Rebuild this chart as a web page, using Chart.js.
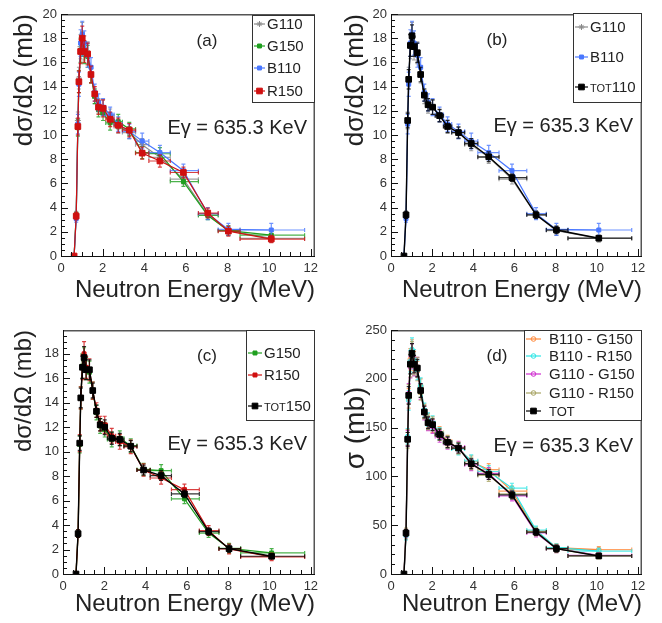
<!DOCTYPE html>
<html>
<head>
<meta charset="utf-8">
<script src="https://cdn.jsdelivr.net/npm/chart.js@4.4.1/dist/chart.umd.min.js"></script>
<style>
body { margin: 0; background: #fff; }
#contenitore { position: relative; width: 662px; height: 623px; }
canvas { position: absolute; }
</style>
</head>
<body>
<div id="contenitore">
  <canvas id="pa" width="331" height="311" style="left:0;top:0"></canvas>
  <canvas id="pb" width="331" height="311" style="left:331px;top:0"></canvas>
  <canvas id="pc" width="331" height="312" style="left:0;top:311px"></canvas>
  <canvas id="pd" width="331" height="312" style="left:331px;top:311px"></canvas>
</div>
<script>
// energie dei neutroni (MeV) e limiti dei bin
var energia     = [0.63, 0.73, 0.81, 0.86, 0.94, 1.02, 1.12, 1.28, 1.44, 1.62, 1.80, 2.02, 2.36, 2.75, 3.28, 3.90, 4.75, 5.88, 7.05, 8.04, 10.10];
var energia_min = [0.58, 0.68, 0.77, 0.84, 0.90, 0.98, 1.07, 1.20, 1.36, 1.53, 1.71, 1.90, 2.15, 2.55, 2.95, 3.58, 4.22, 5.25, 6.60, 7.55, 8.60];
var energia_max = [0.68, 0.77, 0.84, 0.90, 0.98, 1.07, 1.20, 1.36, 1.53, 1.71, 1.90, 2.15, 2.55, 2.95, 3.58, 4.22, 5.25, 6.60, 7.55, 8.60, 11.70];

// dσ/dΩ (mb) per rivelatore
var g110   = [0, 3.4, 11.2, 14.7, 17.3, 18.2, 17.2, 16.8, 15.0, 13.2, 12.4, 12.3, 11.6, 10.7, 10.2, 9.2, 8.15, 6.35, 3.4, 2.1, 1.45];
var g150   = [0, 3.3, 10.6, 14.4, 17.0, 17.5, 16.8, 16.5, 15.0, 13.2, 12.1, 11.8, 11.0, 11.1, 10.5, 8.55, 8.45, 6.15, 3.35, 2.1, 1.72];
var b110   = [0, 3.1, 10.9, 14.2, 17.6, 18.3, 17.6, 16.6, 15.6, 13.5, 12.7, 12.3, 11.7, 10.9, 10.3, 9.5, 8.55, 7.05, 3.5, 2.2, 2.15];
var r150   = [0, 3.3, 10.7, 14.4, 16.9, 18.0, 16.9, 16.7, 15.0, 13.4, 12.3, 12.2, 11.3, 10.8, 10.4, 8.5, 7.85, 6.9, 3.55, 2.05, 1.4];
var tot110 = [0, 3.4, 11.2, 14.6, 17.4, 18.2, 17.3, 16.8, 15.0, 13.3, 12.5, 12.3, 11.6, 10.7, 10.2, 9.3, 8.2, 6.47, 3.4, 2.15, 1.47];
var tot150 = [0, 3.3, 10.7, 14.4, 16.9, 17.7, 16.7, 16.7, 15.0, 13.3, 12.2, 12.0, 11.1, 11.0, 10.45, 8.5, 8.05, 6.55, 3.47, 2.07, 1.45];

var err_g110   = [0.1, 0.3, 0.7, 0.9, 1.0, 1.1, 1.0, 0.9, 0.7, 0.6, 0.6, 0.6, 0.55, 0.55, 0.5, 0.5, 0.5, 0.4, 0.35, 0.4, 0.3];
var err_g150   = [0.1, 0.3, 0.7, 0.9, 1.0, 1.0, 0.9, 0.9, 0.7, 0.6, 0.6, 0.6, 0.6, 0.6, 0.55, 0.5, 0.5, 0.4, 0.35, 0.4, 0.35];
var err_b110   = [0.1, 0.3, 0.8, 1.0, 1.1, 1.1, 1.0, 1.0, 0.8, 0.7, 0.7, 0.7, 0.6, 0.6, 0.6, 0.65, 0.6, 0.55, 0.5, 0.5, 0.55];
var err_r150   = [0.1, 0.3, 0.7, 0.9, 1.0, 1.0, 0.9, 0.9, 0.7, 0.6, 0.6, 0.7, 0.6, 0.6, 0.55, 0.5, 0.5, 0.45, 0.4, 0.4, 0.3];
var err_tot110 = [0.1, 0.3, 0.6, 0.8, 0.9, 0.9, 0.8, 0.8, 0.6, 0.5, 0.5, 0.6, 0.5, 0.5, 0.45, 0.4, 0.4, 0.3, 0.3, 0.3, 0.2];
var err_tot150 = [0.1, 0.3, 0.6, 0.8, 0.9, 0.9, 0.8, 0.8, 0.6, 0.5, 0.5, 0.6, 0.5, 0.5, 0.45, 0.4, 0.4, 0.3, 0.3, 0.3, 0.2];

// σ (mb) combinazioni
var b110_g150 = [0, 40, 140, 180, 220, 228, 218, 208, 192, 167, 157, 152, 145, 136, 129, 115, 107, 85, 44, 27, 25];
var b110_r150 = [0, 39, 141, 178, 218, 230, 220, 209, 193, 168, 158, 155, 144, 135, 128, 116, 105, 88, 45, 27, 23.5];
var g110_g150 = [0, 42, 139, 185, 212, 224, 213, 212, 187, 165, 154, 151, 141, 134, 130, 112, 103, 80, 42, 26, 19];
var g110_r150 = [0, 43, 137, 184, 213, 226, 214, 212, 186, 166, 155, 154, 143, 135, 129, 113, 101, 82, 43, 26, 18.5];
var sigma_tot = [0, 42, 138, 183, 215, 226, 215, 211, 188, 166, 155, 153, 143, 135, 129, 113, 102, 81, 43, 26, 18.5];
var err_sigma     = [1, 4, 8, 10, 11, 12, 10, 10, 8, 7, 7, 7, 6, 6, 6, 6, 6, 5, 4, 4, 3];
var err_sigma_tot = [1, 3.5, 7, 9, 10, 10, 9, 9, 7, 6, 6, 6, 5.5, 5.5, 5, 5, 5, 4, 3.5, 3.5, 2.5];

var FONT = '"Liberation Sans", Arial, sans-serif';
var TESTO = '#222';
var GRIGIO = '#8a8a8a', VERDE = '#1f9f1f', BLU = '#4a78ff', ROSSO = '#d01010', NERO = '#000';
var ARANCIO = '#ff8a3c', CIANO = '#2ee6e6', MAGENTA = '#d02ed0', OLIVA = '#a8a464';

function crea_serie(etichetta, valori, errori, colore, stile, raggio, pieno, spessore) {
    return {
        label: etichetta,
        data: valori.map(function(v, i) { return {x: energia[i], y: v}; }),
        yerr: errori,
        xmin: energia_min,
        xmax: energia_max,
        borderColor: colore,
        backgroundColor: colore,
        pointStyle: stile,
        pointRadius: raggio,
        pointBorderWidth: 1,
        pointBorderColor: colore,
        pointBackgroundColor: pieno ? colore : 'rgba(0,0,0,0)',
        borderWidth: spessore || 1.2,
        showLine: true,
        tension: 0
    };
}

// barre d'errore disegnate prima di ogni serie
var plugin_barre = {
    id: 'barre',
    beforeDatasetDraw: function(chart, args) {
        var ds = chart.data.datasets[args.index];
        var sx = chart.scales.x, sy = chart.scales.y, a = chart.chartArea;
        var ctx = chart.ctx;
        ctx.save();
        ctx.beginPath();
        ctx.rect(a.left, a.top, a.right - a.left, a.bottom - a.top);
        ctx.clip();
        ctx.strokeStyle = ds.borderColor;
        ctx.globalAlpha = 0.8;
        ctx.lineWidth = 1.2;
        ctx.beginPath();
        for (var i = 0; i < ds.data.length; i++) {
            var p = ds.data[i];
            var px = sx.getPixelForValue(p.x), py = sy.getPixelForValue(p.y);
            var x1 = sx.getPixelForValue(ds.xmin[i]), x2 = sx.getPixelForValue(ds.xmax[i]);
            var y1 = sy.getPixelForValue(p.y - ds.yerr[i]), y2 = sy.getPixelForValue(p.y + ds.yerr[i]);
            ctx.moveTo(x1, py); ctx.lineTo(x2, py);
            ctx.moveTo(x1, py - 2); ctx.lineTo(x1, py + 2);
            ctx.moveTo(x2, py - 2); ctx.lineTo(x2, py + 2);
            ctx.moveTo(px, y1); ctx.lineTo(px, y2);
            ctx.moveTo(px - 2, y1); ctx.lineTo(px + 2, y1);
            ctx.moveTo(px - 2, y2); ctx.lineTo(px + 2, y2);
        }
        ctx.stroke();
        ctx.restore();
    }
};

// cornice e tacche interne stile ROOT
var plugin_cornice = {
    id: 'cornice',
    afterDatasetsDraw: function(chart, args, opz) {
        var a = chart.chartArea, ctx = chart.ctx;
        var sx = chart.scales.x, sy = chart.scales.y;
        ctx.save();
        ctx.strokeStyle = '#555';
        ctx.lineWidth = 1.5;
        ctx.beginPath();
        ctx.moveTo(a.left, a.top + 0.75); ctx.lineTo(a.right - 0.75, a.top + 0.75); ctx.lineTo(a.right - 0.75, a.bottom);
        ctx.stroke();
        ctx.strokeStyle = '#111';
        ctx.lineWidth = 1;
        ctx.beginPath();
        ctx.moveTo(a.left + 0.5, a.top); ctx.lineTo(a.left + 0.5, a.bottom + 0.5); ctx.lineTo(a.right, a.bottom + 0.5);
        var k, v, lung;
        for (k = 0; k * opz.xmin <= sx.max + 1e-9; k++) {
            v = k * opz.xmin;
            lung = (k % opz.xsub === 0) ? 7 : 4;
            var px = Math.round(sx.getPixelForValue(v)) + 0.5;
            ctx.moveTo(px, a.bottom); ctx.lineTo(px, a.bottom - lung);
        }
        for (k = 0; k * opz.ymin <= sy.max + 1e-9; k++) {
            v = k * opz.ymin;
            lung = (k % opz.ysub === 0) ? 7 : 4;
            var py = Math.round(sy.getPixelForValue(v)) + 0.5;
            ctx.moveTo(a.left, py); ctx.lineTo(a.left + lung, py);
        }
        ctx.stroke();
        ctx.restore();
    }
};

function disegna_marker(ctx, stile, r, x, y) {
    ctx.beginPath();
    if (stile === 'rect') {
        var s = r * Math.SQRT1_2;
        ctx.rect(x - s, y - s, 2 * s, 2 * s);
        ctx.fill(); ctx.stroke();
    } else if (stile === 'circle') {
        ctx.arc(x, y, r, 0, 2 * Math.PI);
        ctx.fill(); ctx.stroke();
    } else {
        for (var i = 0; i < 4; i++) {
            var ang = i * Math.PI / 4;
            ctx.moveTo(x - r * Math.cos(ang), y - r * Math.sin(ang));
            ctx.lineTo(x + r * Math.cos(ang), y + r * Math.sin(ang));
        }
        ctx.stroke();
    }
}

// legenda, lettera del pannello ed energia del gamma
var plugin_testi = {
    id: 'testi',
    afterDraw: function(chart, args, opz) {
        var ctx = chart.ctx;
        var leg = opz.legenda;
        ctx.save();
        ctx.fillStyle = '#fff';
        ctx.fillRect(leg.box[0], leg.box[1], leg.box[2] - leg.box[0], leg.box[3] - leg.box[1]);
        ctx.strokeStyle = '#333';
        ctx.lineWidth = 1;
        ctx.strokeRect(leg.box[0] + 0.5, leg.box[1] + 0.5, leg.box[2] - leg.box[0] - 1, leg.box[3] - leg.box[1] - 1);
        chart.data.datasets.forEach(function(ds, i) {
            var y = leg.righe[i];
            ctx.strokeStyle = ds.borderColor;
            ctx.lineWidth = 1.2;
            ctx.beginPath();
            ctx.moveTo(leg.linea[0], y); ctx.lineTo(leg.linea[1], y);
            ctx.stroke();
            ctx.fillStyle = ds.pointBackgroundColor;
            ctx.lineWidth = 1;
            disegna_marker(ctx, ds.pointStyle, ds.pointRadius, (leg.linea[0] + leg.linea[1]) / 2, y);
            ctx.fillStyle = TESTO;
            ctx.textAlign = 'left';
            ctx.textBaseline = 'alphabetic';
            var tx = leg.testo_x;
            var base = y + leg.font * 0.36;
            if (ds.label.indexOf('TOT') === 0 && ds.label.length > 3) {
                ctx.font = leg.font_tot + 'px ' + FONT;
                ctx.fillText('TOT', tx, base);
                tx += ctx.measureText('TOT').width;
                ctx.font = leg.font + 'px ' + FONT;
                ctx.fillText(ds.label.slice(3), tx, base);
            } else if (ds.label === 'TOT') {
                ctx.font = leg.font_tot + 'px ' + FONT;
                ctx.fillText(ds.label, tx, base);
            } else {
                ctx.font = leg.font + 'px ' + FONT;
                ctx.fillText(ds.label, tx, base);
            }
        });
        ctx.fillStyle = TESTO;
        ctx.textBaseline = 'middle';
        ctx.textAlign = 'center';
        ctx.font = '17px ' + FONT;
        ctx.fillText(opz.lettera.testo, opz.lettera.x, opz.lettera.y);
        ctx.textAlign = 'right';
        ctx.font = '20px ' + FONT;
        ctx.fillText('Eγ = 635.3 KeV', opz.energia.x, opz.energia.y);
        if (opz.ytitolo) {
            ctx.save();
            ctx.translate(opz.ytitolo.x, opz.ytitolo.y);
            ctx.rotate(-Math.PI / 2);
            ctx.textAlign = 'center';
            ctx.font = opz.ytitolo.font + 'px ' + FONT;
            ctx.fillText(opz.ytitolo.testo, 0, 0);
            ctx.restore();
        }
        ctx.restore();
    }
};

function disegna_pannello(id, serie, p) {
    var datasets = serie.map(function(s, i) { s.order = -i; return s; });
    new Chart(document.getElementById(id), {
        type: 'scatter',
        data: { datasets: datasets },
        plugins: [plugin_barre, plugin_cornice, plugin_testi],
        options: {
            responsive: false,
            animation: false,
            layout: { padding: { top: p.alto, right: p.destra, bottom: 0, left: 0 } },
            plugins: {
                legend: { display: false },
                tooltip: { enabled: false },
                cornice: { xmin: 0.5, xsub: 4, ymin: p.ymin, ysub: p.ysub },
                testi: { legenda: p.legenda, lettera: p.lettera, energia: p.energia, ytitolo: p.ytitolo_libero }
            },
            scales: {
                x: {
                    type: 'linear', min: 0, max: 12.2,
                    border: { display: false },
                    grid: { display: false, drawTicks: false },
                    ticks: { stepSize: 2, includeBounds: false, padding: 5, maxRotation: 0, color: '#333', font: { family: FONT, size: 13 } },
                    title: { display: true, text: 'Neutron Energy (MeV)', align: 'end', color: TESTO,
                             font: { family: FONT, size: 24 }, padding: { top: 0, bottom: p.xpad } },
                    afterFit: function(s) { s.height = p.basso; }
                },
                y: {
                    type: 'linear', min: 0, max: p.ymax,
                    border: { display: false },
                    grid: { display: false, drawTicks: false },
                    ticks: { stepSize: p.ypasso, includeBounds: false, padding: 4, color: '#333', font: { family: FONT, size: 13 } },
                    title: { display: !p.ytitolo_libero, text: p.ytitolo, align: 'end', color: TESTO,
                             font: { family: FONT, size: p.yfont }, padding: { top: p.ypad, bottom: 0 } },
                    afterFit: function(s) { s.width = p.sinistra; }
                }
            }
        }
    });
}

disegna_pannello('pa', [
    crea_serie('G110', g110, err_g110, GRIGIO, 'star', 3, false),
    crea_serie('G150', g150, err_g150, VERDE, 'rect', 2.8, true),
    crea_serie('B110', b110, err_b110, BLU, 'rect', 2.8, true),
    crea_serie('R150', r150, err_r150, ROSSO, 'rect', 4, true)
], {
    alto: 14, destra: 16, basso: 55, sinistra: 61, xpad: 6.6,
    ymax: 20, ypasso: 2, ymin: 0.5, ysub: 4, ytitolo: 'dσ/dΩ (mb)', yfont: 26, ypad: 9,
    legenda: { box: [252, 15, 315, 103], righe: [24, 46, 68, 91], linea: [254, 265], testo_x: 267, font: 15, font_tot: 11 },
    lettera: { testo: '(a)', x: 207, y: 41 },
    energia: { x: 307, y: 128 }
});

disegna_pannello('pb', [
    crea_serie('G110', g110, err_g110, GRIGIO, 'star', 3, false),
    crea_serie('B110', b110, err_b110, BLU, 'rect', 2.8, true),
    crea_serie('TOT110', tot110, err_tot110, NERO, 'rect', 4, true, 1.4)
], {
    alto: 14, destra: 20, basso: 55, sinistra: 60, xpad: 6.6,
    ymax: 20, ypasso: 2, ymin: 0.5, ysub: 4, ytitolo: 'dσ/dΩ (mb)', yfont: 26, ypad: 9,
    legenda: { box: [242, 13, 311, 103], righe: [27, 57, 87], linea: [244, 257], testo_x: 259, font: 15, font_tot: 11 },
    lettera: { testo: '(b)', x: 166, y: 40 },
    energia: { x: 302, y: 126 }
});

disegna_pannello('pc', [
    crea_serie('G150', g150, err_g150, VERDE, 'rect', 2.8, true),
    crea_serie('R150', r150, err_r150, ROSSO, 'rect', 2.8, true),
    crea_serie('TOT150', tot150, err_tot150, NERO, 'rect', 4, true, 1.4)
], {
    alto: 19, destra: 16, basso: 49, sinistra: 63, xpad: 4.2,
    ymax: 19.95, ypasso: 2, ymin: 0.5, ysub: 4, ytitolo: 'dσ/dΩ (mb)', yfont: 24, ypad: 10,
    legenda: { box: [246, 19, 315, 110], righe: [42, 64, 95], linea: [248, 262], testo_x: 264, font: 15, font_tot: 11 },
    lettera: { testo: '(c)', x: 207, y: 45 },
    energia: { x: 307, y: 133 }
});

disegna_pannello('pd', [
    crea_serie('B110 - G150', b110_g150, err_sigma, ARANCIO, 'circle', 2.3, false),
    crea_serie('B110 - R150', b110_r150, err_sigma, CIANO, 'circle', 2.3, false),
    crea_serie('G110 - G150', g110_g150, err_sigma, MAGENTA, 'circle', 2.3, false),
    crea_serie('G110 - R150', g110_r150, err_sigma, OLIVA, 'circle', 2.3, false),
    crea_serie('TOT', sigma_tot, err_sigma_tot, NERO, 'rect', 4, true, 1.4)
], {
    alto: 19, destra: 20, basso: 49, sinistra: 60, xpad: 4.2,
    ymax: 250, ypasso: 50, ymin: 10, ysub: 5, ytitolo: 'σ (mb)', yfont: 26, ypad: 9,
    ytitolo_libero: { testo: 'σ (mb)', x: 25, y: 117, font: 28 },
    legenda: { box: [193, 19, 311, 110], righe: [28, 45, 63, 82, 100], linea: [195, 210], testo_x: 218, font: 15, font_tot: 13 },
    lettera: { testo: '(d)', x: 166, y: 45 },
    energia: { x: 302, y: 135 }
});
</script>
</body>
</html>
